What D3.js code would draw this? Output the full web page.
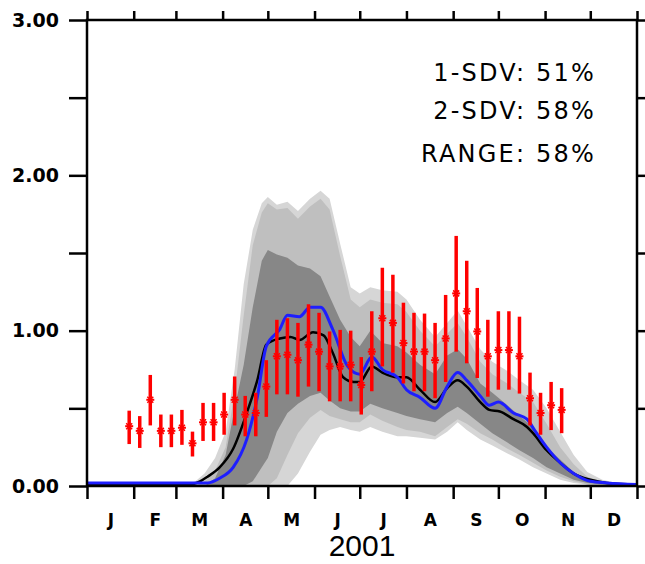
<!DOCTYPE html>
<html>
<head>
<meta charset="utf-8">
<script src="https://cdn.jsdelivr.net/npm/d3@7"></script>
<style>
  body { margin: 0; background: #fff; }
  svg { display: block; }
  .tick text { fill: #000; }
</style>
</head>
<body>
<svg id="chart" width="645" height="564"></svg>
<script>
// ---- data (day of year 2001, values) ----
var bandDays = [0, 62, 72, 78, 85, 92, 98, 104, 110, 116, 120, 126, 133, 140, 148, 155, 161, 168, 175, 181,
  188, 196, 206, 212, 221, 231, 239, 246, 252, 261, 269, 279, 287, 296, 305, 314, 323, 332, 342, 354, 365];
var rangeHi = [0, 0, 0.03, 0.08, 0.18, 0.35, 0.75, 1.3, 1.65, 1.82, 1.86, 1.81, 1.83, 1.77, 1.85, 1.90, 1.85, 1.56, 1.28, 1.24,
  1.28, 1.26, 1.25, 1.2, 1.07, 0.96, 1.05, 1.13, 1.03, 0.88, 0.8, 0.74, 0.68, 0.62, 0.5, 0.35, 0.2, 0.09, 0.04, 0.015, 0];
var sd2Hi = [0, 0, 0, 0.03, 0.1, 0.25, 0.6, 1.1, 1.55, 1.76, 1.82, 1.78, 1.79, 1.72, 1.8, 1.85, 1.78, 1.48, 1.2, 1.15,
  1.2, 1.18, 1.17, 1.12, 1.0, 0.9, 0.98, 1.05, 0.96, 0.8, 0.72, 0.66, 0.6, 0.54, 0.4, 0.25, 0.14, 0.06, 0.025, 0.01, 0];
var sd1Hi = [0, 0, 0, 0, 0.05, 0.2, 0.5, 0.78, 1.15, 1.45, 1.52, 1.49, 1.47, 1.42, 1.40, 1.35, 1.22, 1.07, 0.96, 0.9,
  1.0, 0.92, 0.9, 0.86, 0.78, 0.72, 0.84, 0.88, 0.82, 0.66, 0.6, 0.52, 0.45, 0.38, 0.25, 0.17, 0.09, 0.04, 0.02, 0.01, 0];
var sd1Lo = [0, 0, 0, 0, 0, 0, 0, 0, 0.03, 0.12, 0.18, 0.35, 0.47, 0.53, 0.58, 0.6, 0.55, 0.5, 0.48, 0.48,
  0.53, 0.5, 0.47, 0.45, 0.43, 0.41, 0.47, 0.51, 0.47, 0.4, 0.34, 0.28, 0.23, 0.18, 0.12, 0.08, 0.04, 0.02, 0.01, 0, 0];
var sd2Lo = [0, 0, 0, 0, 0, 0, 0, 0, 0, 0, 0, 0.05, 0.2, 0.34, 0.44, 0.49, 0.45, 0.43, 0.41, 0.41,
  0.46, 0.42, 0.38, 0.36, 0.35, 0.32, 0.38, 0.43, 0.4, 0.34, 0.3, 0.24, 0.2, 0.15, 0.1, 0.06, 0.03, 0.01, 0, 0, 0];
var rangeLo = [0, 0, 0, 0, 0, 0, 0, 0, 0, 0, 0, 0, 0, 0.08, 0.22, 0.33, 0.36, 0.38, 0.36, 0.35,
  0.38, 0.35, 0.32, 0.32, 0.31, 0.3, 0.35, 0.41, 0.36, 0.3, 0.26, 0.21, 0.17, 0.12, 0.08, 0.04, 0.02, 0.01, 0, 0, 0];

var meanDays = [0, 68, 75, 80, 88, 97, 106, 113, 119, 128, 135, 141, 150, 157, 163, 170, 177, 181, 189, 196,
  206, 212, 221, 231, 239, 246, 252, 261, 267, 274, 283, 292, 296, 305, 314, 323, 334, 345, 365];
var meanVals = [0.01, 0.01, 0.03, 0.06, 0.12, 0.24, 0.47, 0.68, 0.91, 0.95, 0.96, 0.94, 0.99, 0.97, 0.86, 0.70, 0.67, 0.67, 0.77, 0.73,
  0.70, 0.70, 0.62, 0.54, 0.63, 0.68, 0.64, 0.54, 0.49, 0.48, 0.43, 0.38, 0.34, 0.23, 0.15, 0.08, 0.04, 0.02, 0.01];

var modelDays = [0, 75, 80, 88, 97, 106, 113, 119, 128, 133, 141, 148, 155, 163, 173, 181, 189, 196, 206, 212,
  221, 231, 239, 246, 252, 261, 267, 273, 283, 292, 297, 305, 314, 323, 334, 345, 365];
var modelVals = [0.02, 0.02, 0.02, 0.05, 0.12, 0.30, 0.57, 0.90, 1.01, 1.10, 1.09, 1.15, 1.15, 1.01, 0.77, 0.72, 0.83, 0.75, 0.70, 0.62,
  0.57, 0.50, 0.64, 0.73, 0.68, 0.58, 0.52, 0.54, 0.47, 0.43, 0.36, 0.25, 0.15, 0.08, 0.03, 0.02, 0.01];

var obsDays = [28, 35, 42, 49, 56, 63, 70, 77, 84, 91, 98, 105, 112, 119, 126, 133, 140, 147, 154, 161, 168,
  175, 182, 189, 196, 203, 210, 217, 224, 231, 238, 245, 252, 259, 266, 273, 280, 287, 294, 301, 308, 315];
var obsMean = [0.385, 0.355, 0.555, 0.355, 0.355, 0.375, 0.275, 0.41, 0.41, 0.46, 0.555, 0.46, 0.47, 0.64, 0.835, 0.845, 0.81, 0.91, 0.865, 0.77, 0.77,
  0.78, 0.65, 0.865, 1.08, 1.05, 0.92, 0.865, 0.865, 0.81, 0.95, 1.24, 1.125, 0.995, 0.835, 0.875, 0.875, 0.835, 0.565, 0.47, 0.52, 0.49];
var obsHi = [0.485, 0.45, 0.715, 0.46, 0.46, 0.49, 0.35, 0.535, 0.535, 0.6, 0.705, 0.58, 0.6, 0.81, 1.07, 1.08, 1.05, 1.17, 1.115, 0.995, 1.005,
  1.0, 0.83, 1.125, 1.405, 1.36, 1.18, 1.115, 1.11, 1.05, 1.23, 1.61, 1.45, 1.275, 1.07, 1.125, 1.125, 1.09, 0.73, 0.6, 0.67, 0.63];
var obsLo = [0.27, 0.245, 0.39, 0.25, 0.25, 0.265, 0.19, 0.29, 0.29, 0.33, 0.39, 0.32, 0.32, 0.445, 0.59, 0.59, 0.575, 0.64, 0.61, 0.545, 0.545,
  0.545, 0.46, 0.61, 0.77, 0.73, 0.66, 0.61, 0.61, 0.565, 0.67, 0.865, 0.79, 0.695, 0.575, 0.62, 0.62, 0.595, 0.39, 0.33, 0.36, 0.34];

var yTicks = [0, 0.5, 1, 1.5, 2, 2.5, 3];
var monthLabels = ["J", "F", "M", "A", "M", "J", "J", "A", "S", "O", "N", "D"];
var yearLabel = "2001";
var statLabels = ["1-SDV: 51%", "2-SDV: 58%", "RANGE: 58%"];

// ---- layout ----
var svg = d3.select("#chart");
var pLeft = 87, pRight = 637, pTop = 20, pBottom = 486;
var t0 = new Date(Date.UTC(2001, 0, 1)), t1 = new Date(Date.UTC(2002, 0, 1));
function day(d) { return d3.utcDay.offset(t0, d); }

var x = d3.scaleUtc().domain([t0, t1]).range([pLeft, pRight]);
var y = d3.scaleLinear().domain([0, 3]).range([pBottom, pTop]);

svg.append("defs").append("clipPath").attr("id", "plotclip")
  .append("rect").attr("x", pLeft).attr("y", pTop).attr("width", pRight - pLeft).attr("height", pBottom - pTop);

var plot = svg.append("g").attr("clip-path", "url(#plotclip)");

function band(lo, hi) {
  var pts = bandDays.map(function(d, i) { return { d: d, lo: lo[i], hi: hi[i] }; });
  return d3.area()
    .x(function(p) { return x(day(p.d)); })
    .y0(function(p) { return y(p.lo); })
    .y1(function(p) { return y(p.hi); })(pts);
}

plot.append("path").attr("d", band(rangeLo, rangeHi)).attr("fill", "#d6d6d6");
plot.append("path").attr("d", band(sd2Lo, sd2Hi)).attr("fill", "#bfbfbf");
plot.append("path").attr("d", band(sd1Lo, sd1Hi)).attr("fill", "#878787");

var line = d3.line()
  .x(function(p) { return x(day(p[0])); })
  .y(function(p) { return y(p[1]); })
  .curve(d3.curveMonotoneX);

plot.append("path")
  .attr("d", line(d3.zip(meanDays, meanVals)))
  .attr("fill", "none").attr("stroke", "#000").attr("stroke-width", 2.5);
plot.append("path")
  .attr("d", line(d3.zip(modelDays, modelVals)))
  .attr("fill", "none").attr("stroke", "#1e1eff").attr("stroke-width", 3);

// observations with error bars
var obs = plot.append("g").selectAll("g")
  .data(obsDays.map(function(d, i) { return { d: d, m: obsMean[i], lo: obsLo[i], hi: obsHi[i] }; }))
  .enter().append("g")
  .attr("transform", function(o) { return "translate(" + x(day(o.d)) + ",0)"; });

obs.append("line")
  .attr("x1", 0).attr("x2", 0)
  .attr("y1", function(o) { return y(o.lo); })
  .attr("y2", function(o) { return y(o.hi); })
  .attr("stroke", "#ff0000").attr("stroke-width", 3.5);
obs.append("line")
  .attr("x1", -4).attr("x2", 4)
  .attr("y1", function(o) { return y(o.m); })
  .attr("y2", function(o) { return y(o.m); })
  .attr("stroke", "#ff0000").attr("stroke-width", 2);
obs.append("path")
  .attr("d", function(o) { var c = y(o.m); return "M-3," + (c - 3) + "L3," + (c + 3) + "M-3," + (c + 3) + "L3," + (c - 3); })
  .attr("stroke", "#ff0000").attr("stroke-width", 1.5);

// ---- axes ----
var months = d3.utcMonth.range(t0, d3.utcDay.offset(t1, 1));
var midMonths = d3.utcMonth.range(t0, t1).map(function(m) {
  return new Date((m.getTime() + d3.utcMonth.offset(m, 1).getTime()) / 2);
});

function styleAxis(g) {
  g.select(".domain").remove();
  g.selectAll(".tick line").attr("stroke", "#000").attr("stroke-width", 2.5);
}

svg.append("g")
  .attr("transform", "translate(" + pLeft + ",0)")
  .call(d3.axisLeft(y).tickValues(yTicks).tickSize(18).tickPadding(10)
    .tickFormat(function(v) { return v % 1 === 0 ? d3.format(".2f")(v) : ""; }))
  .call(styleAxis)
  .selectAll("text")
  .attr("font-family", "DejaVu Sans").attr("font-weight", "bold").attr("font-size", 19);

svg.append("g")
  .attr("transform", "translate(" + pRight + ",0)")
  .call(d3.axisRight(y).tickValues(yTicks).tickSize(9).tickFormat(""))
  .call(styleAxis);

svg.append("g")
  .attr("transform", "translate(0," + pTop + ")")
  .call(d3.axisTop(x).tickValues(months).tickSize(9).tickFormat(""))
  .call(styleAxis);

svg.append("g")
  .attr("transform", "translate(0," + pBottom + ")")
  .call(d3.axisBottom(x).tickValues(months).tickSize(13).tickFormat(""))
  .call(styleAxis);

svg.append("g")
  .attr("transform", "translate(0," + pBottom + ")")
  .call(d3.axisBottom(x).tickValues(midMonths).tickSize(0).tickPadding(28)
    .tickFormat(function(m, i) { return monthLabels[i]; }))
  .call(function(g) { g.select(".domain").remove(); })
  .selectAll("text")
  .attr("font-family", "DejaVu Sans").attr("font-weight", "bold").attr("font-size", 17);

// frame
svg.append("rect")
  .attr("x", pLeft).attr("y", pTop).attr("width", pRight - pLeft).attr("height", pBottom - pTop)
  .attr("fill", "none").attr("stroke", "#000").attr("stroke-width", 2.5);

// texts
svg.append("text")
  .attr("x", (pLeft + pRight) / 2).attr("y", 556)
  .attr("text-anchor", "middle")
  .attr("font-family", "Liberation Sans, Arial, sans-serif").attr("font-size", 30)
  .text(yearLabel);

svg.append("g").selectAll("text")
  .data(statLabels)
  .enter().append("text")
  .attr("x", 596)
  .attr("y", function(s, i) { return [81, 119, 162][i]; })
  .attr("text-anchor", "end")
  .attr("font-family", "DejaVu Sans").attr("font-size", 24)
  .attr("letter-spacing", 2.2)
  .text(function(s) { return s; });
</script>
</body>
</html>
